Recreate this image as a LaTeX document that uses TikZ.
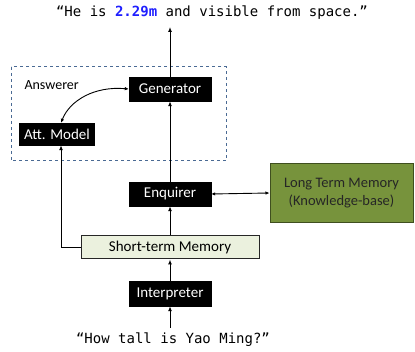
\documentclass[tikz,border=0pt]{standalone}
\usepackage{fontspec}
\setmainfont{Carlito}
\newfontfamily\monofont{DejaVu Sans Mono}
\usetikzlibrary{arrows.meta}
\definecolor{dashblue}{HTML}{4A6A94}
\definecolor{stmfill}{HTML}{EBF1DE}
\definecolor{ltmfill}{HTML}{77933C}
\definecolor{ltmdraw}{HTML}{3F4F1F}
\definecolor{hiblue}{HTML}{1F1FFF}
\begin{document}
\begin{tikzpicture}[x=1pt,y=-1pt,
  blackbox/.style={draw=black,fill=black,text=white,minimum width=82pt,minimum height=24pt,inner sep=0pt,font=\fontsize{15}{17}\selectfont},
  arr/.style={-{Latex[length=5pt,width=4pt]},line width=1pt},
  barr/.style={{Latex[length=4pt,width=3.5pt]}-{Latex[length=4pt,width=3.5pt]},line width=0.9pt},
  mono/.style={font=\monofont\fontsize{14}{16}\selectfont}]
\useasboundingbox (0,0) rectangle (415,352);
% dashed answerer box
\draw[dashblue,dashed,line width=1pt] (11,67) rectangle (226,161);
\node[anchor=west,font=\fontsize{14}{16}\selectfont] (ans) at (21,85) {Answerer};
\node[blackbox] (gen) at (170,89) {Generator};
\node[blackbox,minimum width=75pt,minimum height=22pt] (att) at (57,134) {Att. Model};
\node[blackbox] (enq) at (170,194) {Enquirer};
\node[draw=ltmdraw,line width=1pt,fill=ltmfill,minimum width=143pt,minimum height=59pt,inner sep=0pt,align=center,text=black!85,font=\fontsize{14.5}{18}\selectfont] (ltm) at (341.5,193) {Long Term Memory\\(Knowledge-base)};
\node[draw=black!85,line width=1pt,fill=stmfill,minimum width=178pt,minimum height=23pt,inner sep=0pt,font=\fontsize{15}{17}\selectfont] (stm) at (170,247.5) {Short-term Memory};
\node[blackbox,minimum height=25pt] (int) at (170,293.5) {Interpreter};
\node[mono] (out) at (212,13) {“He is \textcolor{hiblue}{\textbf{2.29m}} and visible from space.”};
\node[mono] (in) at (173,340) {“How tall is Yao Ming?”};
\coordinate (outtip) at (170,27);
\coordinate (intail) at (170,328);
\coordinate (corner) at (61,247.5);
% connectors
\draw[arr] (gen.north) -- (outtip);
\draw[arr] (enq.north) -- (gen.south);
\draw[arr] (stm.north -| enq) -- (enq.south);
\draw[arr] (int.north) -- (stm.south -| int);
\draw[arr] (intail) -- (int.south);
\draw[arr] (stm.west) -- (corner) -- (corner |- att.south);
\draw[barr] (enq.east) -- (ltm.west);
\draw[barr] (gen.west) .. controls (95,86) and (70,100) .. (att.north -| 61,0);
\end{tikzpicture}
\end{document}
